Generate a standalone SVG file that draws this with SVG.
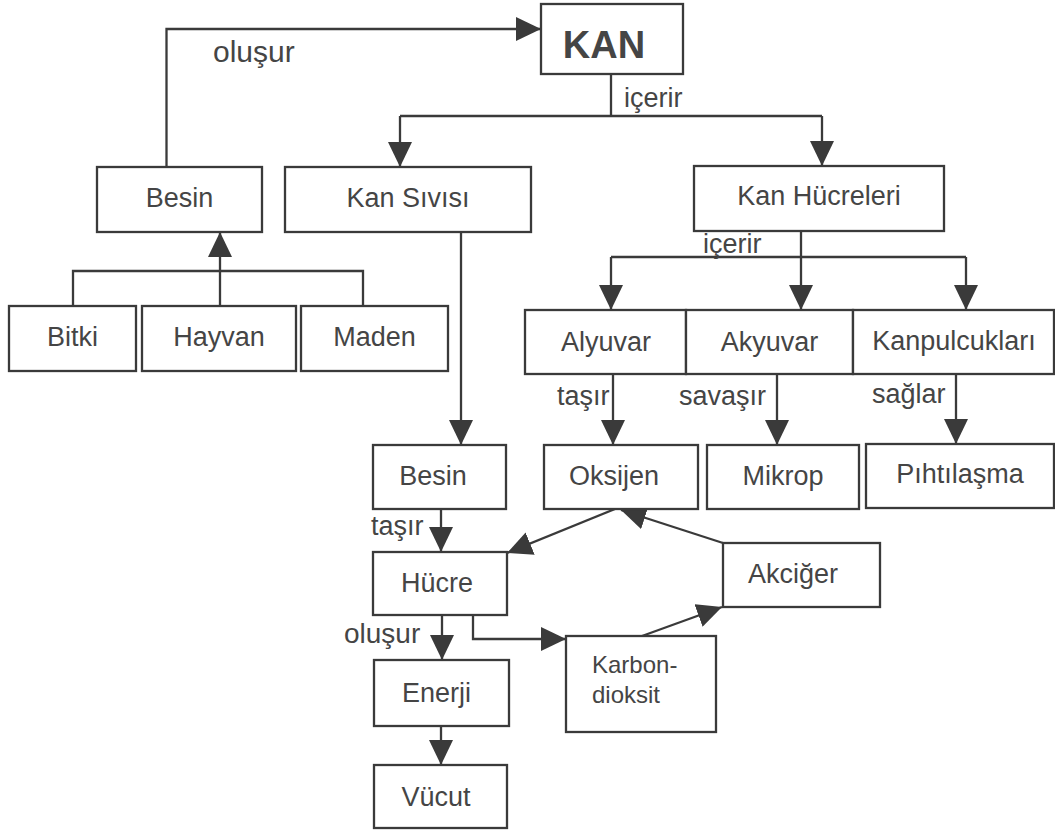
<svg xmlns="http://www.w3.org/2000/svg" width="1055" height="833" viewBox="0 0 1055 833">
<style>
.box{fill:#fff;stroke:#3a3a3a;stroke-width:2.3}
.lbl{font-family:"Liberation Sans",Arial,sans-serif;font-size:27px;fill:#454545;text-anchor:middle}
.edge{font-family:"Liberation Sans",Arial,sans-serif;font-size:27px;fill:#454545}
.ln{fill:none;stroke:#3a3a3a;stroke-width:2.3;marker-end:url(#ah)}
.pl{fill:none;stroke:#3a3a3a;stroke-width:2.3}
</style>
<defs>
<marker id="ah" markerUnits="userSpaceOnUse" markerWidth="25" markerHeight="24" refX="25" refY="12" orient="auto">
<path d="M0,0 L25,12 L0,24 Z" fill="#3a3a3a"/>
</marker>
</defs>
<rect width="1055" height="833" fill="#fff"/>
<g id="connectors">
<path class="ln" d="M166.5,167 V29 H541"/>
<path class="pl" d="M611,74 V116"/>
<path class="pl" d="M400,116 H822"/>
<path class="ln" d="M400,116 V167"/>
<path class="ln" d="M822,116 V166"/>
<path class="pl" d="M73,306 V271 H363 V306"/>
<path class="ln" d="M220,306 V232"/>
<path class="ln" d="M461,232 V445"/>
<path class="ln" d="M801,231 V310"/>
<path class="pl" d="M611,257 H966"/>
<path class="ln" d="M611,257 V310"/>
<path class="ln" d="M966,257 V310"/>
<path class="ln" d="M613,374 V445"/>
<path class="ln" d="M777,374 V445"/>
<path class="ln" d="M956,374 V444"/>
<path class="ln" d="M441,509 V552"/>
<path class="ln" d="M615,509 L507,553"/>
<path class="ln" d="M723,543 L621,510"/>
<path class="ln" d="M473,615 V639 H566"/>
<path class="ln" d="M642,636 L722,607"/>
<path class="ln" d="M442,615 V660"/>
<path class="ln" d="M441,726 V765"/>
<text class="edge" x="213" y="62" style="font-size:30px">oluşur</text>
<text class="edge" x="624" y="107">içerir</text>
<text class="edge" x="703" y="253">içerir</text>
<text class="edge" x="557" y="405">taşır</text>
<text class="edge" x="679" y="405">savaşır</text>
<text class="edge" x="872" y="403">sağlar</text>
<text class="edge" x="371" y="535">taşır</text>
<text class="edge" x="344" y="643" style="font-size:28px">oluşur</text>
</g>
<g id="kan"><rect class="box" x="541" y="4" width="142" height="70"/><text class="lbl" x="604" y="58" style="font-size:38px;font-weight:bold">KAN</text></g>
<g id="besin1"><rect class="box" x="97" y="167" width="165" height="65"/><text class="lbl" x="179.5" y="207">Besin</text></g>
<g id="kansivisi"><rect class="box" x="285" y="167" width="246" height="65"/><text class="lbl" x="408" y="207">Kan Sıvısı</text></g>
<g id="kanhucreleri"><rect class="box" x="694" y="166" width="250" height="65"/><text class="lbl" x="819" y="205">Kan Hücreleri</text></g>
<g id="bitki"><rect class="box" x="9" y="306" width="127" height="65"/><text class="lbl" x="72.5" y="346">Bitki</text></g>
<g id="hayvan"><rect class="box" x="142" y="306" width="154" height="65"/><text class="lbl" x="219" y="346">Hayvan</text></g>
<g id="maden"><rect class="box" x="301" y="306" width="147" height="65"/><text class="lbl" x="374.5" y="346">Maden</text></g>
<g id="alyuvar"><rect class="box" x="525" y="310" width="161" height="64"/><text class="lbl" x="606" y="351">Alyuvar</text></g>
<g id="akyuvar"><rect class="box" x="686" y="310" width="167" height="64"/><text class="lbl" x="769.5" y="351">Akyuvar</text></g>
<g id="kanpulcuklari"><rect class="box" x="853" y="310" width="201" height="64"/><text class="lbl" x="954" y="350">Kanpulcukları</text></g>
<g id="besin2"><rect class="box" x="373" y="445" width="133" height="64"/><text class="lbl" x="433" y="485">Besin</text></g>
<g id="oksijen"><rect class="box" x="544" y="445" width="154" height="64"/><text class="lbl" x="614" y="485">Oksijen</text></g>
<g id="mikrop"><rect class="box" x="707" y="445" width="152" height="64"/><text class="lbl" x="783" y="485">Mikrop</text></g>
<g id="pihtilasma"><rect class="box" x="866" y="444" width="188" height="64"/><text class="lbl" x="960" y="483">Pıhtılaşma</text></g>
<g id="hucre"><rect class="box" x="373" y="552" width="134" height="63"/><text class="lbl" x="437" y="592">Hücre</text></g>
<g id="akciger"><rect class="box" x="723" y="543" width="157" height="64"/><text class="lbl" x="793" y="583">Akciğer</text></g>
<g id="enerji"><rect class="box" x="374" y="660" width="135" height="66"/><text class="lbl" x="436.5" y="702">Enerji</text></g>
<g id="karbondioksit"><rect class="box" x="566" y="636" width="150" height="96"/><text class="edge" x="592" y="673" style="font-size:24px">Karbon-</text><text class="edge" x="592" y="703" style="font-size:24px">dioksit</text></g>
<g id="vucut"><rect class="box" x="374" y="765" width="133" height="63"/><text class="lbl" x="436" y="806">Vücut</text></g>
</svg>
